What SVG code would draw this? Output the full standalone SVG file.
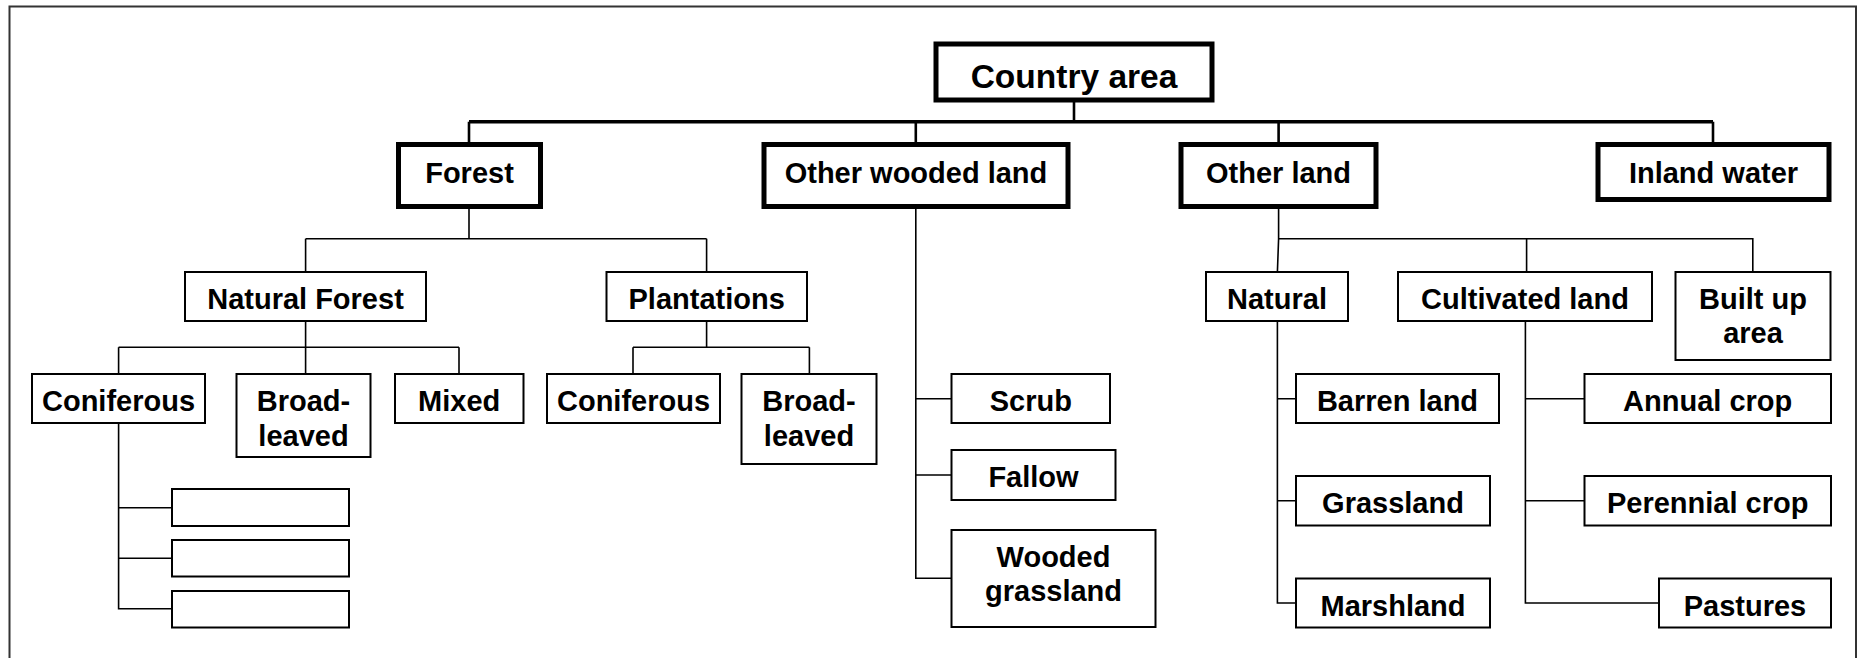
<svg xmlns="http://www.w3.org/2000/svg" width="1858" height="658" viewBox="0 0 1858 658">
<style>
.thick{fill:#fff;stroke:#000;stroke-width:5}
.thin{fill:#fff;stroke:#000;stroke-width:2}
.t{font-family:"Liberation Sans",Arial,sans-serif;font-weight:bold;font-size:29px;text-anchor:middle;fill:#000}
.big{font-size:33.5px}
.c{fill:none;stroke:#000;stroke-width:1.6}
.ct{fill:none;stroke:#000;stroke-width:3.5}
.cv{fill:none;stroke:#000;stroke-width:2.6}
</style>
<rect x="0" y="0" width="1858" height="658" fill="#fff"/>
<path d="M9.5,658 V6.5 H1856 V658" fill="none" stroke="#333" stroke-width="2"/>
<g id="connectors">
<path class="ct" d="M469,121.7 H1713"/>
<path class="cv" d="M1074,102 V121.7 M469,121.7 V143 M915.8,121.7 V143 M1278.6,121.7 V143 M1713,121.7 V143"/>
<path class="c" d="M469,209 V238.7 M305.6,238.7 H706.6 M305.6,238.7 V272 M706.6,238.7 V272"/>
<path class="c" d="M305.6,322 V374 M118.6,347.3 H459 M118.6,347.3 V374 M459,347.3 V374"/>
<path class="c" d="M706.6,322 V347.3 M633,347.3 H809.4 M633,347.3 V374 M809.4,347.3 V374"/>
<path class="c" d="M118.6,424 V608.7 H172 M118.6,507.7 H172 M118.6,558.3 H172"/>
<path class="c" d="M915.8,209 V578.3 H952 M915.8,398.7 H952 M915.8,475 H952"/>
<path class="c" d="M1278.6,209 V238.7 H1752.8 V272 M1526.6,238.7 V272 M1278.6,238.7 L1277.4,272"/>
<path class="c" d="M1277.4,322 V603 H1296 M1277.4,398.7 H1296 M1277.4,500.7 H1296"/>
<path class="c" d="M1525.4,322 V603 H1659 M1525.4,398.7 H1584 M1525.4,500.7 H1584"/>
</g>
<g id="country-area"><rect class="thick" x="936" y="44" width="276" height="56"/><text class="t big" x="1074" y="88.3">Country area</text></g>
<g id="forest"><rect class="thick" x="398.5" y="144.5" width="142" height="62"/><text class="t" x="469.5" y="183">Forest</text></g>
<g id="other-wooded-land"><rect class="thick" x="764" y="144.5" width="304" height="62"/><text class="t" x="916" y="183">Other wooded land</text></g>
<g id="other-land"><rect class="thick" x="1181" y="144.5" width="195" height="62"/><text class="t" x="1278.5" y="183">Other land</text></g>
<g id="inland-water"><rect class="thick" x="1598" y="144.5" width="231" height="55"/><text class="t" x="1713.5" y="183">Inland water</text></g>
<g id="natural-forest"><rect class="thin" x="185" y="272" width="241" height="49"/><text class="t" x="305.5" y="309">Natural Forest</text></g>
<g id="plantations"><rect class="thin" x="606.5" y="272" width="200.5" height="49"/><text class="t" x="706.7" y="309">Plantations</text></g>
<g id="natural"><rect class="thin" x="1206" y="272" width="142" height="49"/><text class="t" x="1277" y="309">Natural</text></g>
<g id="cultivated-land"><rect class="thin" x="1398" y="272" width="254" height="49"/><text class="t" x="1525" y="309">Cultivated land</text></g>
<g id="built-up-area"><rect class="thin" x="1675.5" y="272" width="155" height="88"/><text class="t" x="1753" y="309">Built up</text><text class="t" x="1753" y="343">area</text></g>
<g id="coniferous-1"><rect class="thin" x="32" y="374" width="173" height="49"/><text class="t" x="118.5" y="410.7">Coniferous</text></g>
<g id="broadleaved-1"><rect class="thin" x="236.5" y="374" width="134" height="83"/><text class="t" x="303.5" y="410.7">Broad-</text><text class="t" x="303.5" y="446">leaved</text></g>
<g id="mixed"><rect class="thin" x="395" y="374" width="128.5" height="49"/><text class="t" x="459.2" y="410.7">Mixed</text></g>
<g id="coniferous-2"><rect class="thin" x="547" y="374" width="173" height="49"/><text class="t" x="633.5" y="410.7">Coniferous</text></g>
<g id="broadleaved-2"><rect class="thin" x="741.5" y="374" width="135" height="90"/><text class="t" x="809" y="410.7">Broad-</text><text class="t" x="809" y="446">leaved</text></g>
<g id="empty-1"><rect class="thin" x="172" y="489" width="177" height="37"/></g>
<g id="empty-2"><rect class="thin" x="172" y="540" width="177" height="36.5"/></g>
<g id="empty-3"><rect class="thin" x="172" y="591" width="177" height="36.5"/></g>
<g id="scrub"><rect class="thin" x="951.5" y="374" width="158.5" height="49"/><text class="t" x="1030.8" y="410.7">Scrub</text></g>
<g id="fallow"><rect class="thin" x="951.5" y="450" width="164" height="50"/><text class="t" x="1033.5" y="487.3">Fallow</text></g>
<g id="wooded-grassland"><rect class="thin" x="951.5" y="530" width="204" height="97"/><text class="t" x="1053.5" y="566.7">Wooded</text><text class="t" x="1053.5" y="601">grassland</text></g>
<g id="barren-land"><rect class="thin" x="1296" y="374" width="203" height="49"/><text class="t" x="1397.5" y="410.7">Barren land</text></g>
<g id="grassland"><rect class="thin" x="1296" y="476" width="194" height="49.5"/><text class="t" x="1393" y="513.3">Grassland</text></g>
<g id="marshland"><rect class="thin" x="1296" y="578.5" width="194" height="49"/><text class="t" x="1393" y="615.7">Marshland</text></g>
<g id="annual-crop"><rect class="thin" x="1584.5" y="374" width="246.5" height="49"/><text class="t" x="1707.7" y="410.7">Annual crop</text></g>
<g id="perennial-crop"><rect class="thin" x="1584.5" y="476" width="246.5" height="49.5"/><text class="t" x="1707.7" y="513.3">Perennial crop</text></g>
<g id="pastures"><rect class="thin" x="1659" y="578.5" width="172" height="49"/><text class="t" x="1745" y="615.7">Pastures</text></g>
</svg>
